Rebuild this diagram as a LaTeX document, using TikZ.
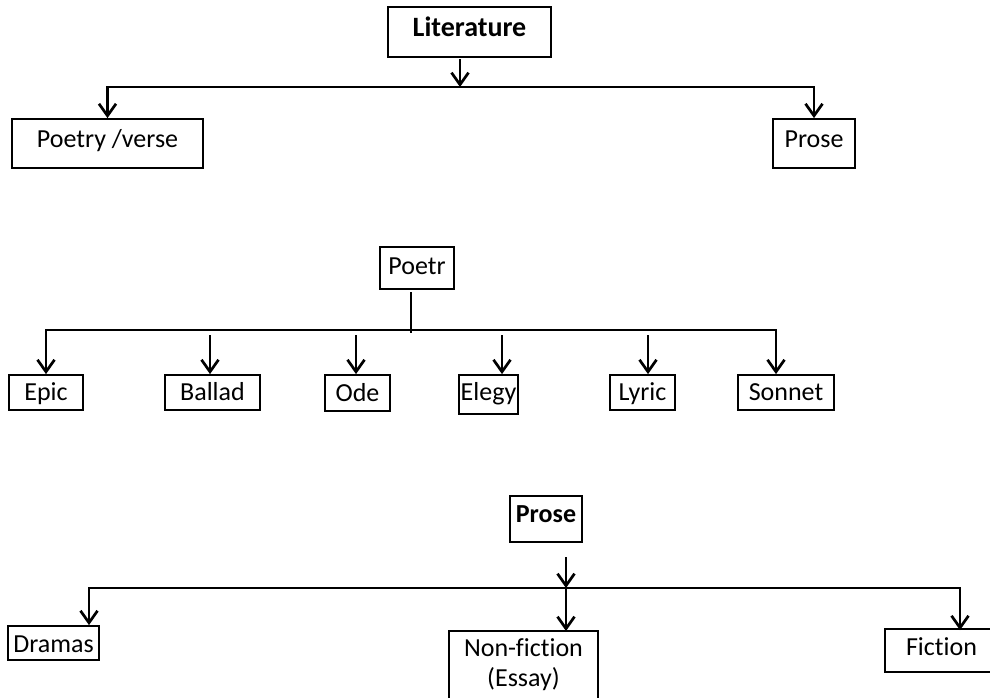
\documentclass[tikz,border=0pt]{standalone}
\usepackage{fontspec}
\setmainfont{Carlito}[Ligatures=NoCommon]
\usetikzlibrary{arrows.meta}
\tikzset{
  box/.style={draw, line width=1.8pt, inner sep=0pt, align=center, font=\fontsize{26}{31}\selectfont},
  boldbox/.style={box, font=\fontsize{26}{31}\selectfont\bfseries},
  openbox/.style={line width=1.8pt},
  conn/.style={line width=2.7pt},
  arr/.style={conn, -{Straight Barb[length=12pt,width=17pt,line width=2.7pt]}},
}
\begin{document}
\begin{tikzpicture}[x=1pt,y=-1pt]
\useasboundingbox (0,0) rectangle (990,697);
\clip (0,0) rectangle (990,697);
% Level 1
\node[boldbox, font=\fontsize{28}{33}\selectfont\bfseries, text height=18pt, text depth=9pt, minimum width=163pt, minimum height=50pt] (lit) at (469.5,32) {Literature};
\node[box, text height=16.7pt, text depth=9pt, minimum width=191pt, minimum height=49pt] (pv) at (107.5,143.5) {Poetry /verse};
\node[box, text height=16.7pt, text depth=9pt, minimum width=82pt, minimum height=49pt] (pr) at (814,143.5) {Prose};
\coordinate (j1) at (460,87);
\coordinate (s1) at (460,59);
\draw[arr] (s1) -- (j1);
\draw[arr] (j1) -| (pv.north);
\draw[arr] (j1) -| (pr.north);
% Level 2
\node[box, text height=16pt, text depth=4pt, minimum width=74pt, minimum height=42pt] (poetr) at (417,268) {Poetr};
\node[box, text height=16pt, text depth=0pt, minimum width=74pt, minimum height=35pt] (epic) at (46,392.5) {Epic};
\node[box, text height=16pt, text depth=0pt, minimum width=95pt, minimum height=35pt] (ballad) at (212.5,392.5) {Ballad};
\node[box, text height=16pt, text depth=0pt, minimum width=65pt, minimum height=36pt] (ode) at (357.5,393) {Ode};
\node[box, text height=16.7pt, text depth=4.7pt, minimum width=59pt, minimum height=39pt] (elegy) at (488.5,394.5) {Elegy};
\node[box, text height=16pt, text depth=0pt, minimum width=65pt, minimum height=35pt] (lyric) at (642.5,392.5) {Lyric};
\node[box, text height=16pt, text depth=0pt, minimum width=96pt, minimum height=35pt] (sonnet) at (786,392.5) {Sonnet};
\coordinate (p0) at (411,292);
\coordinate (j2) at (411,330);
\coordinate (p1) at (411,333);
\draw[conn] (p0) -- (p1);
\draw[arr] (j2) -| (epic.north);
\draw[arr] (j2) -| ([xshift=-10pt]sonnet.north);
\draw[arr] (210,335) coordinate (bs) -- (bs |- ballad.north);
\draw[arr] (356,335) coordinate (os) -- (os |- ode.north);
\draw[arr] (502,335) coordinate (es) -- (es |- elegy.north);
\draw[arr] (648,335) coordinate (ls) -- (ls |- lyric.north);
% Level 3
\node[boldbox, text height=16.7pt, text depth=10.5pt, minimum width=72pt, minimum height=46pt] (prose) at (546,519) {Prose};
\node[box, text height=18.6pt, text depth=0pt, minimum width=91pt, minimum height=34pt] (dramas) at (53.5,643) {Dramas};
\node[box, draw=none, font=\fontsize{26}{30}\selectfont, inner ysep=5pt, minimum width=147pt, minimum height=66pt, anchor=north] (nonfic) at (523.5,631) {Non-fiction\\(Essay)};
\draw[openbox] (nonfic.south west) -- (nonfic.north west) -- (nonfic.north east) -- (nonfic.south east);
\node[box, text height=16.7pt, text depth=7.7pt, minimum width=113pt, minimum height=43pt] (fiction) at (941.5,650.5) {Fiction};
\coordinate (q0) at (566,557);
\coordinate (j3) at (566,588);
\draw[arr] (q0) -- (j3);
\draw[arr] (j3) -| ([xshift=35.5pt]dramas.north);
\draw[arr] (j3) -- (j3 |- nonfic.north);
\draw[arr] (j3) -| ([xshift=18.5pt,yshift=-2pt]fiction.north);
\end{tikzpicture}
\end{document}
